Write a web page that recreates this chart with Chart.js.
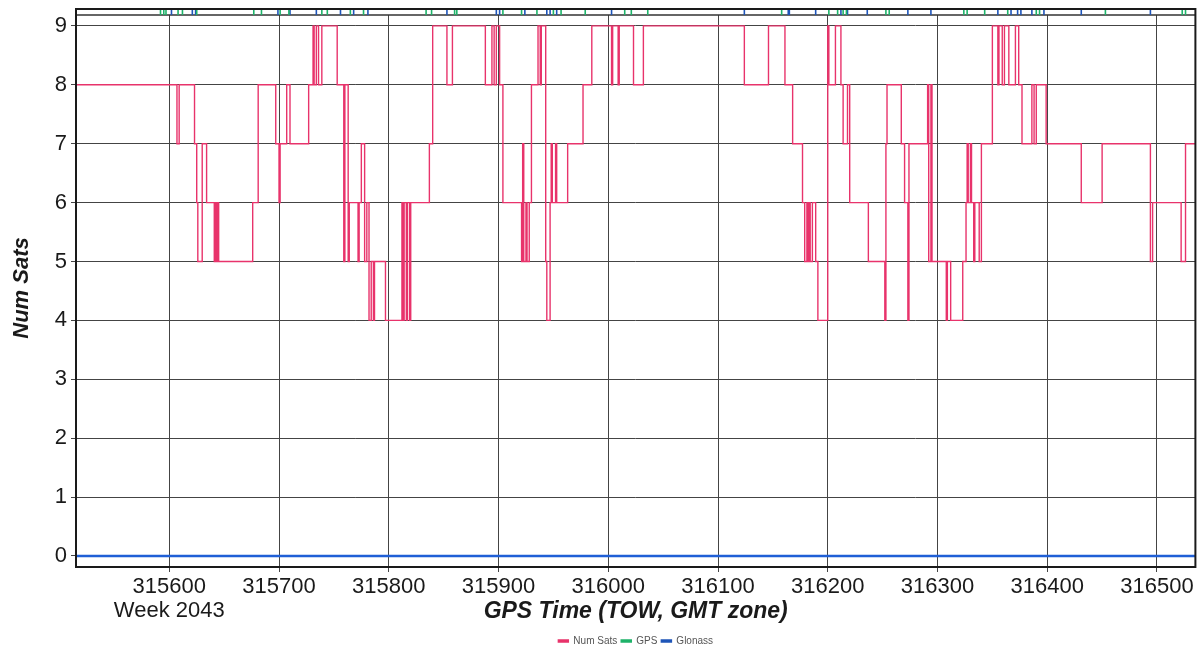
<!DOCTYPE html>
<html>
<head>
<meta charset="utf-8">
<title>Num Sats</title>
<script src="https://cdn.jsdelivr.net/npm/chart.js@4.4.1/dist/chart.umd.min.js"></script>
<style>
  html, body { margin: 0; padding: 0; background: #fff; }
  #wrap { width: 1201px; height: 650px; }
</style>
</head>
<body>
<div id="wrap"><canvas id="satChart" width="1201" height="650"></canvas></div>
<script>
// GPS time of week (s) where the satellite count changes, and the count from then on
var satTimes = [
    315515, 315607, 315609, 315623, 315625, 315626, 315630, 315634, 315641, 315642,
    315643, 315644, 315645, 315676, 315681, 315697, 315700, 315701, 315707, 315710,
    315727, 315731, 315732, 315734, 315736, 315739, 315753, 315759, 315760, 315763,
    315764, 315772, 315773, 315775, 315778, 315780, 315782, 315784, 315786, 315787,
    315797, 315812, 315813, 315814, 315816, 315817, 315819, 315820, 315837, 315840,
    315853, 315858, 315888, 315894, 315896, 315898, 315901, 315904, 315921, 315922,
    315923, 315925, 315926, 315928, 315930, 315936, 315938, 315939, 315943, 315944,
    315947, 315948, 315949, 315952, 315953, 315963, 315977, 315985, 316003, 316004,
    316009, 316010, 316023, 316032, 316124, 316146, 316161, 316168, 316177, 316179,
    316181, 316182, 316183, 316184, 316186, 316189, 316191, 316200, 316201, 316207,
    316212, 316214, 316218, 316220, 316237, 316252, 316253, 316254, 316267, 316270,
    316273, 316274, 316291, 316292, 316294, 316295, 316308, 316309, 316312, 316323,
    316326, 316327, 316328, 316330, 316331, 316333, 316334, 316338, 316340, 316350,
    316355, 316356, 316359, 316361, 316365, 316371, 316374, 316377, 316386, 316388,
    316390, 316399, 316431, 316450, 316494, 316496, 316522, 316526, 316535
];
var satCounts = [
    8, 7, 8, 7, 6, 5, 7, 6, 5, 6,
    5, 6, 5, 6, 8, 7, 6, 7, 8, 7,
    8, 9, 8, 9, 8, 9, 8, 5, 8, 5,
    6, 5, 6, 7, 5, 6, 4, 5, 4, 5,
    4, 6, 4, 6, 4, 6, 4, 6, 7, 9,
    8, 9, 8, 9, 8, 9, 8, 6, 5, 7,
    5, 6, 5, 6, 8, 9, 8, 9, 5, 4,
    6, 7, 6, 7, 6, 7, 8, 9, 8, 9,
    8, 9, 8, 9, 8, 9, 8, 7, 6, 5,
    6, 5, 6, 5, 6, 5, 4, 9, 8, 9,
    8, 7, 8, 6, 5, 4, 7, 8, 7, 6,
    4, 7, 8, 5, 8, 5, 4, 5, 4, 5,
    6, 7, 6, 7, 6, 5, 6, 5, 7, 9,
    8, 9, 8, 9, 8, 9, 8, 7, 8, 7,
    8, 7, 6, 7, 5, 6, 5, 7, 7
];

// receiver events marked along the top strip
var gpsEvents = [
    315592, 315595, 315597, 315608, 315612, 315625, 315677, 315684, 315701, 315709,
    315739, 315744, 315765, 315777, 315834, 315839, 315860, 315862, 315904, 315921,
    315935, 315950, 315957, 315979, 316015, 316021, 316036, 316158, 316201, 316209,
    316214, 316217, 316253, 316256, 316324, 316327, 316343, 316364, 316390, 316393,
    316453, 316523, 316526
];
var glonassEvents = [
    315602, 315621, 315624, 315699, 315710, 315734, 315756, 315768, 315781, 315853,
    315898, 315901, 315924, 315944, 315947, 315953, 316003, 316124, 316164, 316165,
    316189, 316212, 316218, 316236, 316273, 316294, 316355, 316367, 316373, 316376,
    316386, 316397, 316431, 316494
];

// Glonass satellites in the solution: none for the whole session
var glonassTimes = [315515, 316535];
var glonassCounts = [0, 0];

var xTicks = [315600, 315700, 315800, 315900, 316000, 316100, 316200, 316300, 316400, 316500];
var yTicks = [0, 1, 2, 3, 4, 5, 6, 7, 8, 9];
var weekLabel = 'Week 2043';

var xMin = 315515, xMax = 316535;
var yMin = -0.187, yMax = 9.287;
var stripBase = 9.185;   // lower edge of the event strip
var stripLevel = 9.228;  // where event marks sit inside it

var family = "'Liberation Sans', Arial, sans-serif";
Chart.defaults.font.family = family;
Chart.defaults.color = '#1a1a1a';

function toPoints(xs, ys) {
    return xs.map(function (x, i) { return { x: x, y: ys[i] }; });
}
function toMarks(xs, level) {
    return xs.map(function (x) { return { x: x, y: level }; });
}

// white event strip above the grid, plot frame and the week label
var framePlugin = {
    id: 'frame',
    beforeDatasetsDraw: function (chart) {
        var a = chart.chartArea, c = chart.ctx;
        var y = chart.scales.y.getPixelForValue(stripBase);
        c.save();
        c.fillStyle = '#fff';
        c.fillRect(a.left, a.top, a.right - a.left, y - a.top);
        c.strokeStyle = '#333';
        c.lineWidth = 1.5;
        c.beginPath();
        c.moveTo(a.left, y);
        c.lineTo(a.right, y);
        c.stroke();
        c.restore();
    },
    afterDraw: function (chart) {
        var a = chart.chartArea, c = chart.ctx;
        c.save();
        c.strokeStyle = '#1a1a1a';
        c.lineWidth = 2;
        c.strokeRect(a.left, a.top, a.right - a.left, a.bottom - a.top);
        c.font = '22px ' + family;
        c.fillStyle = '#1a1a1a';
        c.textAlign = 'center';
        c.textBaseline = 'middle';
        c.fillText(weekLabel, chart.scales.x.getPixelForValue(xTicks[0]), 611);
        c.restore();
    }
};

var ctx = document.getElementById('satChart').getContext('2d');
var satChart = new Chart(ctx, {
    type: 'line',
    data: {
        datasets: [{
            label: 'Num Sats',
            data: toPoints(satTimes, satCounts),
            stepped: true,
            borderColor: '#e8336b',
            backgroundColor: '#e8336b',
            borderWidth: 1.4,
            pointRadius: 0,
            fill: false
        }, {
            label: 'GPS',
            data: toMarks(gpsEvents, stripLevel),
            showLine: false,
            pointStyle: 'line',
            rotation: 90,
            pointRadius: 2.5,
            pointBorderWidth: 1.6,
            borderColor: '#1fb36a',
            backgroundColor: '#1fb36a',
            borderWidth: 1.5
        }, {
            label: 'Glonass',
            data: toMarks(glonassEvents, stripLevel),
            showLine: false,
            pointStyle: 'line',
            rotation: 90,
            pointRadius: 2.5,
            pointBorderWidth: 1.6,
            borderColor: '#1f55b8',
            backgroundColor: '#1f55b8',
            borderWidth: 1.5
        }, {
            label: 'Glonass level',
            data: toPoints(glonassTimes, glonassCounts),
            borderColor: '#1f5fd6',
            backgroundColor: '#1f5fd6',
            borderWidth: 2.5,
            pointRadius: 0,
            fill: false
        }]
    },
    options: {
        responsive: false,
        animation: false,
        events: [],
        layout: { padding: { top: 9, right: 4, left: 0, bottom: -6 } },
        scales: {
            x: {
                type: 'linear',
                min: xMin,
                max: xMax,
                afterBuildTicks: function (s) {
                    s.ticks = xTicks.map(function (v) { return { value: v }; });
                },
                afterFit: function (s) {
                    s.height = 65;
                    s.paddingLeft = 0;
                    s.paddingRight = 0;
                },
                ticks: {
                    callback: function (v) { return String(v); },
                    font: { size: 22 },
                    color: '#1a1a1a',
                    padding: 2,
                    maxRotation: 0,
                    autoSkip: false
                },
                grid: { color: '#444', lineWidth: 1, tickLength: 5 },
                border: { display: false },
                title: {
                    display: true,
                    text: 'GPS Time (TOW, GMT zone)',
                    color: '#1a1a1a',
                    font: { size: 23, weight: 'bold', style: 'italic' },
                    padding: { top: 0, bottom: 7 }
                }
            },
            y: {
                min: yMin,
                max: yMax,
                afterBuildTicks: function (s) {
                    s.ticks = yTicks.map(function (v) { return { value: v }; });
                },
                afterFit: function (s) {
                    s.width = 76;
                    s.paddingTop = 0;
                    s.paddingBottom = 0;
                },
                ticks: {
                    font: { size: 22 },
                    color: '#1a1a1a',
                    padding: 4
                },
                grid: { color: '#444', lineWidth: 1, tickLength: 5 },
                border: { display: false },
                title: {
                    display: true,
                    text: 'Num Sats',
                    color: '#1a1a1a',
                    font: { size: 22, weight: 'bold', style: 'italic' },
                    padding: { top: 9, bottom: 0 }
                }
            }
        },
        plugins: {
            legend: {
                position: 'bottom',
                fullSize: false,
                labels: {
                    boxWidth: 10,
                    boxHeight: 2,
                    padding: 4,
                    color: '#555',
                    font: { size: 10 },
                    filter: function (item) { return item.datasetIndex < 3; }
                }
            },
            tooltip: { enabled: false }
        }
    },
    plugins: [framePlugin]
});
</script>
</body>
</html>
